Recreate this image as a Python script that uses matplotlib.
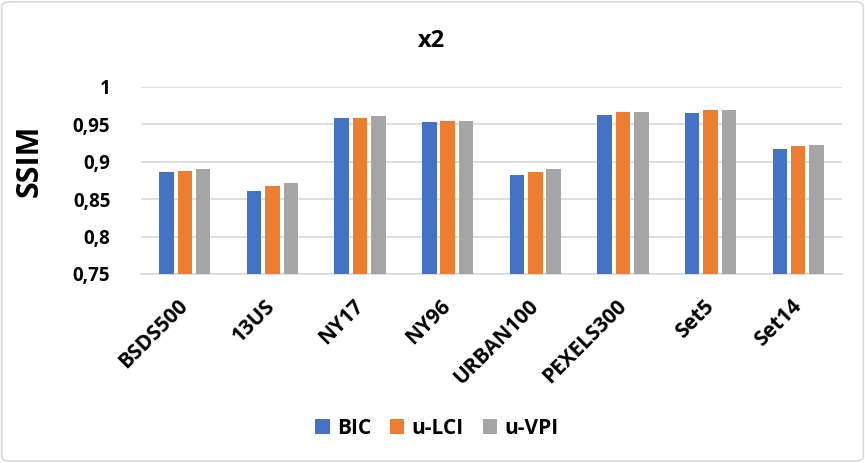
import numpy as np
import matplotlib
matplotlib.use('Agg')
import matplotlib.pyplot as plt
from matplotlib.patches import FancyBboxPatch
from matplotlib.ticker import FuncFormatter

# SSIM values
datasets = ['BSDS500', '13US', 'NY17', 'NY96', 'URBAN100', 'PEXELS300', 'Set5', 'Set14']
bic = [0.886, 0.861, 0.958, 0.953, 0.882, 0.962, 0.965, 0.917]
u_lci = [0.888, 0.867, 0.959, 0.955, 0.886, 0.966, 0.969, 0.921]
u_vpi = [0.890, 0.871, 0.961, 0.955, 0.890, 0.966, 0.969, 0.922]
series_names = ['BIC', 'u-LCI', 'u-VPI']
colors = ['#4472C4', '#ED7D31', '#A5A5A5']

plt.rcParams['font.family'] = ['Open Sans', 'DejaVu Sans']
plt.rcParams['font.weight'] = 'bold'

fig = plt.figure(figsize=(8.65, 4.63), dpi=100)
ax = fig.add_axes([141 / 865, 1 - 274 / 463, 701 / 865, 187 / 463])

x = np.arange(len(datasets))
w = 0.165
step = 0.21
for k, vals in enumerate([bic, u_lci, u_vpi]):
    ax.bar(x + (k - 1) * step, vals, width=w, color=colors[k], label=series_names[k], zorder=3)

ax.set_ylim(0.75, 1.0)
ax.set_xlim(-0.5, len(datasets) - 0.5)
ax.set_yticks([0.75, 0.8, 0.85, 0.9, 0.95, 1.0])
ax.yaxis.set_major_formatter(FuncFormatter(lambda v, p: ('%g' % round(v, 2)).replace('.', ',')))
ax.grid(axis='y', color='#D9D9D9', linewidth=1.2, zorder=0)
for s in ['top', 'right', 'left']:
    ax.spines[s].set_visible(False)
ax.spines['bottom'].set_color('#D9D9D9')
ax.spines['bottom'].set_linewidth(1.2)
ax.tick_params(axis='both', length=0)
ax.tick_params(axis='y', labelsize=13.5, pad=22)
ax.set_xticks(x)
ax.set_xticklabels(datasets, rotation=45, ha='right', va='center', rotation_mode='anchor',
                   fontsize=15, fontweight='bold')
ax.tick_params(axis='x', pad=21)

fig.text(30 / 865, 1 - 161 / 463, 'SSIM', rotation=90, ha='center', va='center',
         fontsize=22, fontweight='bold')
fig.text(0.499, 1 - 41 / 463, 'x2', ha='center', va='center', fontsize=17, fontweight='bold')

leg = fig.legend(loc='center', bbox_to_anchor=(0.505, 1 - 428 / 463), ncol=3, frameon=False,
                 prop={'size': 15, 'weight': 'bold'}, handlelength=0.7, handleheight=0.7,
                 handletextpad=0.35, columnspacing=0.9)

border = FancyBboxPatch((0.002, 0.004), 0.996, 0.992, boxstyle='round,pad=0,rounding_size=0.01',
                        transform=fig.transFigure, fill=False, edgecolor='#D9D9D9', linewidth=1.2)
fig.patches.append(border)

fig.savefig('out.png', dpi=100)
